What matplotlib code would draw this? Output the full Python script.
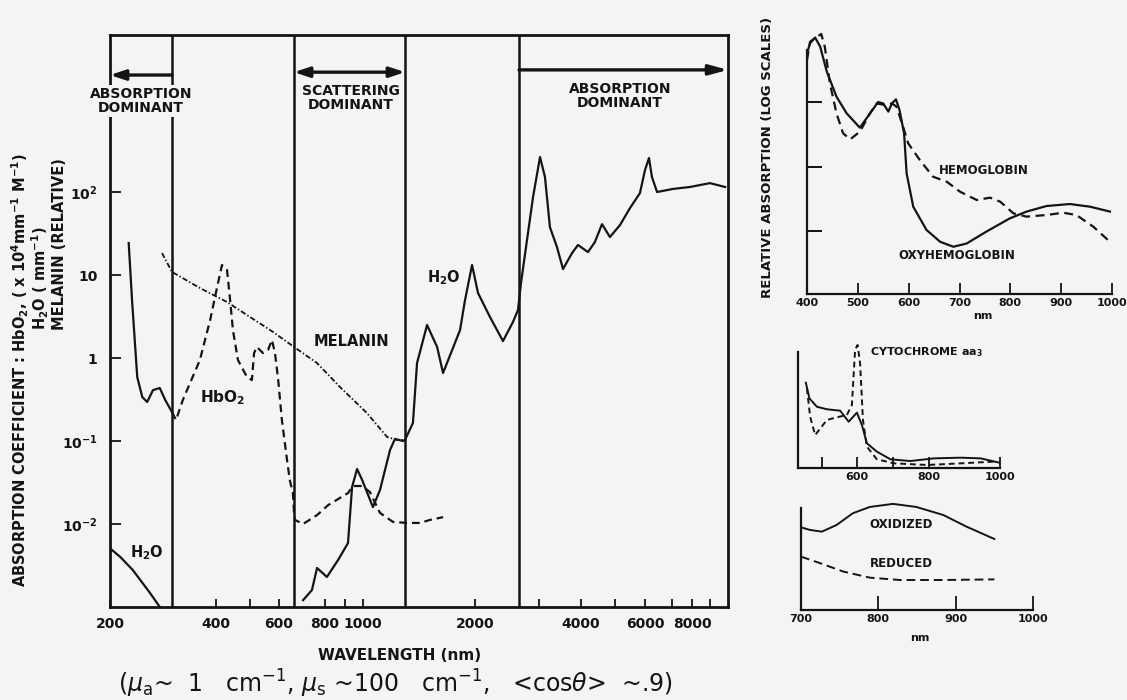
import numpy as np
import matplotlib
matplotlib.use("Agg")
import matplotlib.pyplot as plt
from matplotlib.transforms import blended_transform_factory
from matplotlib.ticker import NullLocator

BG = '#f4f4f4'
INK = '#141414'

# ---------------- main chart data (wavelength nm, absorption coefficient) ----------------
water_uv_nm = [200, 214, 232, 260, 277]
water_uv = [0.0051, 0.0040, 0.0028, 0.00147, 0.0010]

water_ir_nm = [702, 740, 763, 809, 864, 916, 938, 966, 995, 1064,
               1112, 1184, 1221, 1284, 1300, 1365, 1400, 1489, 1584, 1643,
               1824, 1881, 1964, 2039, 2201, 2392, 2550, 2633, 2683, 2785,
               2891, 3021, 3125, 3233, 3393, 3537, 3762, 3918, 4187, 4383,
               4591, 4837, 5154, 5476, 5818, 6000, 6138, 6242, 6428, 7047,
               7890, 9000, 9830]
water_ir = [0.00121, 0.0016, 0.00295, 0.0023, 0.00368, 0.0059, 0.0279, 0.046, 0.0339, 0.016,
            0.0257, 0.078, 0.106, 0.1, 0.103, 0.165, 0.87, 2.5, 1.36, 0.66,
            2.17, 5.0, 13.2, 6.07, 3.12, 1.6, 2.72, 3.79, 8.0, 26.4,
            87, 264, 152, 37.8, 21.7, 11.8, 18.4, 23, 18.9, 25,
            41, 28.7, 40, 64, 97, 184, 257, 152, 100, 109,
            115, 128, 115]

hbo2_uv_nm = [226, 231, 239, 247, 255, 265, 277, 287, 300]
hbo2_uv = [24.3, 5.0, 0.59, 0.339, 0.295, 0.411, 0.435, 0.312, 0.223]

hbo2_nm = [300, 308, 322, 360, 385, 403, 416, 430, 438, 447,
           462, 490, 506, 513, 522, 542, 560, 574, 585, 597,
           612, 634, 646, 660, 665, 669, 702, 763, 815, 916,
           943, 995, 1044, 1112, 1206, 1316, 1426, 1516, 1643]
hbo2 = [0.223, 0.179, 0.312, 0.946, 2.87, 7.17, 13.2, 11.5, 5.43, 2.17,
        0.946, 0.59, 0.543, 1.15, 1.36, 1.15, 1.25, 1.65, 1.15, 0.543,
        0.179, 0.059, 0.0339, 0.0236, 0.0136, 0.0112, 0.01, 0.0128, 0.0169, 0.0236,
        0.0287, 0.0287, 0.0243, 0.0136, 0.0106, 0.0103, 0.0103, 0.0112, 0.0121]

melanin_nm = [281, 300, 360, 430, 500, 578, 660, 763, 874, 1025, 1162, 1236, 1300]
melanin = [18.4, 10.9, 6.97, 4.73, 3.12, 2.06, 1.39, 0.87, 0.447, 0.217, 0.112, 0.103, 0.103]

region_bounds_nm = [300, 665, 1300, 2650]

x_tick_nm = [200, 400, 500, 600, 800, 900, 1000, 2000, 3000, 4000, 5000, 6000, 7000, 8000, 9000]
x_tick_labels = ['200', '400', '', '600', '800', '', '1000', '2000', '', '4000', '', '6000', '', '8000', '']
y_ticks = [1e2, 1e1, 1, 1e-1, 1e-2]
y_tick_labels = [r'$\mathbf{10^{2}}$', '10', '1', r'$\mathbf{10^{-1}}$', r'$\mathbf{10^{-2}}$']

# ---------------- inset: hemoglobin ----------------
oxy_nm = [400, 406, 416, 426, 439, 458, 478, 504, 524, 540,
          550, 560, 567, 575, 582, 591, 596, 609, 635, 662,
          688, 714, 753, 799, 832, 871, 917, 957, 996]
oxy = [569, 813, 1000, 720, 295, 121, 66.8, 40, 66.8, 100,
       95, 71, 95, 110, 75, 32.7, 7.8, 2.38, 1.04, 0.68,
       0.57, 0.64, 0.98, 1.57, 2.0, 2.44, 2.62, 2.38, 2.0]
deoxy_nm = [400, 406, 428, 435, 445, 458, 471, 485, 504, 524,
            537, 553, 567, 576, 589, 599, 622, 648, 675, 701,
            734, 760, 780, 806, 832, 871, 904, 930, 963, 996]
deoxy = [447, 861, 1133, 720, 195, 66.8, 32.7, 26.4, 34.7, 66.8,
         95, 90, 95, 85, 41.4, 22.9, 12.6, 6.95, 5.8, 4.07,
         3.02, 3.29, 2.85, 1.88, 1.67, 1.77, 1.92, 1.77, 1.17, 0.68]

# ---------------- inset: cytochrome aa3 ----------------
cyto_ox_nm = [456, 466, 487, 515, 552, 576, 599, 613, 627, 655, 693, 749, 815, 890, 946, 998]
cyto_ox = [7.35, 6.0, 5.28, 5.06, 4.94, 3.99, 4.77, 3.71, 2.13, 1.41, 0.75, 0.6, 0.83, 0.89, 0.83, 0.46]
cyto_red_nm = [459, 468, 482, 515, 543, 571, 585, 594, 601, 608, 616, 627, 655, 703, 796, 890, 984]
cyto_red = [6.87, 4.42, 2.84, 4.14, 4.37, 4.57, 5.43, 10.2, 10.6, 9.02, 4.14, 1.84, 0.75, 0.4, 0.26, 0.4, 0.55]

# ---------------- inset: NIR oxidized / reduced ----------------
nir_ox_nm = [700, 712, 727, 746, 767, 789, 819, 849, 884, 914, 950]
nir_ox = [8.1, 7.84, 7.68, 8.33, 9.48, 10.1, 10.4, 10.1, 9.31, 8.17, 6.96]
nir_red_nm = [700, 725, 755, 789, 828, 884, 950]
nir_red = [5.23, 4.58, 3.76, 3.17, 2.94, 2.94, 3.0]

# ---------------- figure ----------------
W, H = 1127, 700
fig = plt.figure(figsize=(W / 100, H / 100), dpi=100, facecolor=BG)


def rect(l, t, r, b):
    return [l / W, 1 - b / H, (r - l) / W, (b - t) / H]


BOLD = dict(fontweight='bold', color=INK)

# piecewise-logarithmic wavelength scale of the original figure
knot_nm = [200, 300, 400, 500, 600, 665, 800, 900, 1000, 1300, 2000, 2650,
           3000, 4000, 5000, 6000, 7000, 8000, 9000, 10000]
knot_pos = [110, 172, 216, 250, 279, 294, 325, 345, 363, 405, 475, 519,
            539, 581, 615, 645, 672, 692, 710, 728]
log_knots = np.log10(knot_nm)


def fwd(x):
    x = np.asarray(x, dtype=float)
    return np.interp(np.log10(np.clip(x, 1e-6, None)), log_knots, knot_pos)


def inv(p):
    p = np.asarray(p, dtype=float)
    return 10 ** np.interp(p, knot_pos, log_knots)


ax = fig.add_axes(rect(110, 35, 728, 607), facecolor=BG)
ax.set_xscale('function', functions=(fwd, inv))
ax.set_yscale('log')
ax.set_xlim(200, 10000)
ax.set_ylim(1e-3, 10 ** 3.892)

LW = 1.6
ax.plot(water_uv_nm, water_uv, color=INK, lw=LW)
ax.plot(water_ir_nm, water_ir, color=INK, lw=LW)
ax.plot(hbo2_uv_nm, hbo2_uv, color=INK, lw=LW)
ax.plot(hbo2_nm, hbo2, color=INK, lw=LW, linestyle=(0, (3.5, 2.2)))
ax.plot(melanin_nm, melanin, color=INK, lw=1.3, linestyle=(0, (3.0, 1.2, 0.8, 1.2)))

for b in region_bounds_nm:
    ax.axvline(b, color=INK, lw=1.8, zorder=1.5)

for s in ax.spines.values():
    s.set_linewidth(2.0)
    s.set_color(INK)

ax.set_xticks(x_tick_nm)
ax.set_xticklabels(x_tick_labels)
ax.xaxis.set_minor_locator(NullLocator())
ax.set_yticks(y_ticks)
ax.set_yticklabels(y_tick_labels)
ax.yaxis.set_minor_locator(NullLocator())
ax.tick_params(axis='x', direction='in', length=6, width=1.3, labelsize=10, pad=7, colors=INK)
ax.tick_params(axis='y', direction='in', length=8, width=1.3, labelsize=10, pad=9, colors=INK)
for lab in ax.get_xticklabels() + ax.get_yticklabels():
    lab.set_fontweight('bold')

# header: dominant regimes
trans = blended_transform_factory(ax.transData, ax.transAxes)
arrow_kw = dict(color=INK, lw=2.4, shrinkA=0, shrinkB=0)
ax.annotate('', xy=(200, 0.930), xytext=(300, 0.930), xycoords=trans, textcoords=trans,
            arrowprops=dict(arrowstyle='-|>,head_length=0.9,head_width=0.3', **arrow_kw))
ax.annotate('', xy=(665, 0.935), xytext=(1300, 0.935), xycoords=trans, textcoords=trans,
            arrowprops=dict(arrowstyle='<|-|>,head_length=0.9,head_width=0.3', **arrow_kw))
ax.annotate('', xy=(10000, 0.939), xytext=(2650, 0.939), xycoords=trans, textcoords=trans,
            arrowprops=dict(arrowstyle='-|>,head_length=1.1,head_width=0.3', **arrow_kw))

head_kw = dict(transform=trans, ha='center', va='center', fontsize=10, linespacing=0.95,
               zorder=6, clip_on=False, **BOLD)
ax.text(245, 0.885, 'ABSORPTION\nDOMINANT',
        bbox=dict(fc=BG, ec='none', pad=1.5), **head_kw)
ax.text(930, 0.890, 'SCATTERING\nDOMINANT',
        bbox=dict(fc=BG, ec='none', pad=1.0), **head_kw)
ax.text(5150, 0.893, 'ABSORPTION\nDOMINANT', **head_kw)

# curve labels
ax.text(932, 1.56, 'MELANIN', ha='center', va='center', fontsize=10.5, **BOLD)
ax.text(419, 0.33, r'HbO$_\mathbf{2}$', ha='center', va='center', fontsize=11, **BOLD)
ax.text(1651, 9.4, r'H$_\mathbf{2}$O', ha='center', va='center', fontsize=10.5, **BOLD)
ax.text(255, 0.0045, r'H$_\mathbf{2}$O', ha='center', va='center', fontsize=10.5, **BOLD)

# axis labels
fig.text(20 / W, 1 - 587 / H,
         r'ABSORPTION COEFFICIENT : HbO$_\mathbf{2}$, ( x 10$^\mathbf{4}$mm$^\mathbf{-1}$ M$^\mathbf{-1}$)',
         rotation=90, ha='center', va='bottom', fontsize=10.5, **BOLD)
fig.text(40 / W, 1 - 330 / H, r'H$_\mathbf{2}$O ( mm$^\mathbf{-1}$)',
         rotation=90, ha='center', va='bottom', fontsize=10.5, **BOLD)
fig.text(59 / W, 1 - 330 / H, 'MELANIN (RELATIVE)',
         rotation=90, ha='center', va='bottom', fontsize=10.5, **BOLD)
fig.text(400 / W, 1 - 655 / H, 'WAVELENGTH (nm)', ha='center', va='center', fontsize=11, **BOLD)
fig.text(395 / W, 1 - 684 / H,
         r'($\mu_{\rm a}$~  1   cm$^{-1}$, $\mu_{\rm s}$ ~100   cm$^{-1}$,   <cos$\theta$>  ~.9)',
         ha='center', va='center', fontsize=17, color=INK)

fig.text(767 / W, 1 - 157 / H, 'RELATIVE ABSORPTION (LOG SCALES)', rotation=90,
         ha='center', va='center', fontsize=9.5, **BOLD)


def style_inset(a, ybounds):
    a.set_facecolor(BG)
    a.spines['top'].set_visible(False)
    a.spines['right'].set_visible(False)
    for s in ('left', 'bottom'):
        a.spines[s].set_linewidth(1.6)
        a.spines[s].set_color(INK)
    a.spines['left'].set_bounds(*ybounds)
    a.tick_params(axis='x', direction='in', length=8, width=1.3, labelsize=8, pad=3, colors=INK)
    for lab in a.get_xticklabels():
        lab.set_fontweight('bold')


# inset A: hemoglobin
axA = fig.add_axes(rect(807, 33, 1112, 294))
axA.set_yscale('log')
axA.set_xlim(400, 1000)
axA.set_ylim(0.1055, 1175)
axA.plot(oxy_nm, oxy, color=INK, lw=1.6)
axA.plot(deoxy_nm, deoxy, color=INK, lw=1.6, linestyle=(0, (4, 2.5)))
axA.set_xticks([400, 500, 600, 700, 800, 900, 1000])
axA.set_yticks([1, 10, 100])
axA.set_yticklabels([])
axA.yaxis.set_minor_locator(NullLocator())
axA.tick_params(axis='y', direction='in', length=11, width=1.3)
style_inset(axA, (0.1055, 640))
axA.text(748, 8.8, 'HEMOGLOBIN', ha='center', va='center', fontsize=8.5, **BOLD)
axA.text(695, 0.42, 'OXYHEMOGLOBIN', ha='center', va='center', fontsize=8.5, **BOLD)
fig.text(983 / W, 1 - 316 / H, 'nm', ha='center', va='center', fontsize=8, **BOLD)

# inset B: cytochrome aa3
axB = fig.add_axes(rect(798, 340, 1000, 468))
axB.set_xlim(434, 1000)
axB.set_ylim(0, 11.03)
axB.plot(cyto_ox_nm, cyto_ox, color=INK, lw=1.4)
axB.plot(cyto_red_nm, cyto_red, color=INK, lw=1.4, linestyle=(0, (3, 2)))
axB.set_xticks([500, 600, 700, 800, 1000])
axB.set_xticklabels(['', '600', '', '800', '1000'])
axB.set_yticks([])
style_inset(axB, (0, 10))
axB.text(637, 10, r'CYTOCHROME aa$_\mathbf{3}$', ha='left', va='center', fontsize=8, **BOLD)

# inset C: NIR oxidized / reduced
axC = fig.add_axes(rect(801, 500, 1033, 610))
axC.set_xlim(700, 1000)
axC.set_ylim(0, 10.78)
axC.plot(nir_ox_nm, nir_ox, color=INK, lw=1.4)
axC.plot(nir_red_nm, nir_red, color=INK, lw=1.4, linestyle=(0, (4.5, 2.5)))
axC.set_xticks([700, 800, 900, 1000])
axC.set_yticks([])
style_inset(axC, (0, 10))
axC.tick_params(axis='x', length=10)
axC.text(829, 8.33, 'OXIDIZED', ha='center', va='center', fontsize=8.5, **BOLD)
axC.text(830, 4.6, 'REDUCED', ha='center', va='center', fontsize=8.5, **BOLD)
fig.text(920 / W, 1 - 638 / H, 'nm', ha='center', va='center', fontsize=8, **BOLD)

fig.savefig('out.png', dpi=100, facecolor=BG)
